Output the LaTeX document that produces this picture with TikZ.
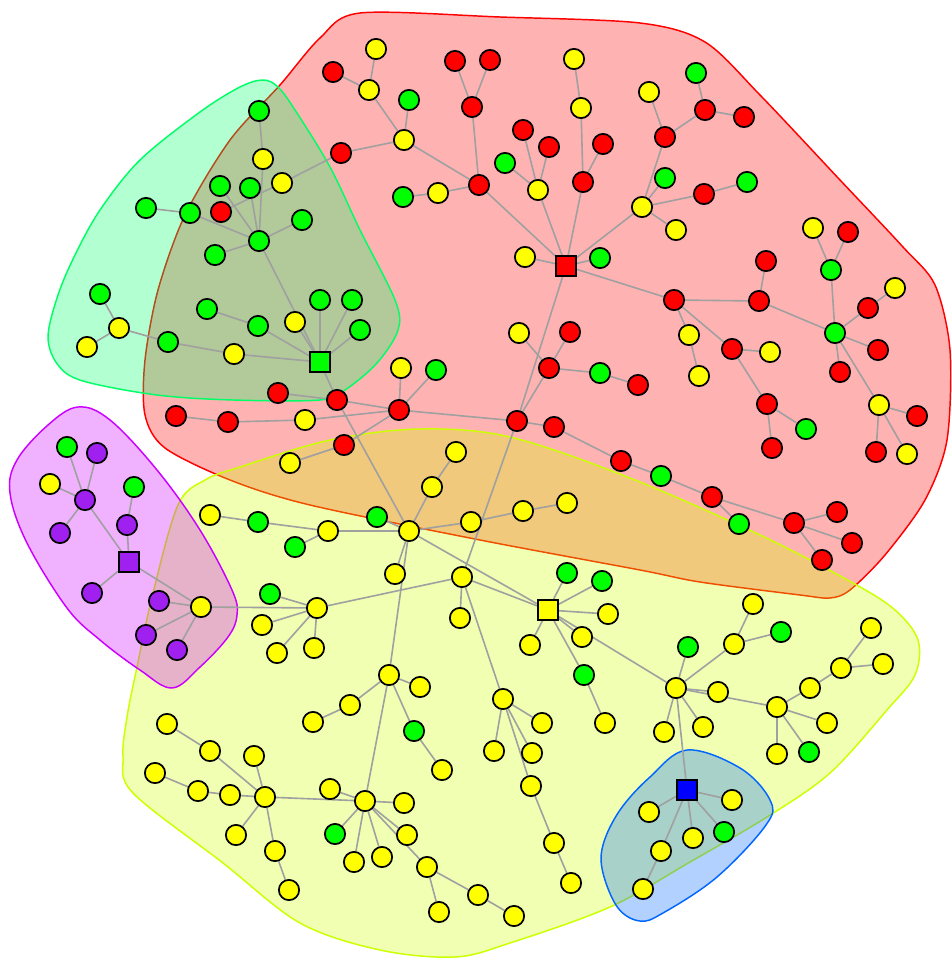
\documentclass[tikz,border=0pt]{standalone}
\pgfdeclarelayer{hulls}
\pgfdeclarelayer{edges}
\pgfsetlayers{hulls,edges,main}
\definecolor{cR}{RGB}{255,0,0}
\definecolor{cY}{RGB}{255,255,0}
\definecolor{cG}{RGB}{0,255,0}
\definecolor{cP}{RGB}{160,32,240}
\definecolor{cB}{RGB}{0,0,255}
\definecolor{hR}{RGB}{255,0,0}
\definecolor{hY}{RGB}{204,255,0}
\definecolor{hG}{RGB}{0,255,102}
\definecolor{hB}{RGB}{0,102,255}
\definecolor{hP}{RGB}{204,0,255}
\definecolor{egray}{RGB}{160,160,160}
\tikzset{
 vtx/.style={circle, draw=black, line width=1.3pt, minimum size=15.2pt, inner sep=0pt},
 sqv/.style={rectangle, draw=black, line width=1.3pt, minimum size=15.2pt, inner sep=0pt},
 R/.style={vtx, fill=cR}, Y/.style={vtx, fill=cY}, G/.style={vtx, fill=cG},
 P/.style={vtx, fill=cP},
 lnk/.style={draw=egray, line width=1.2pt},
 hull/.style={line width=1.1pt, fill opacity=0.3}
}
\begin{document}
\begin{tikzpicture}[x=0.75pt,y=-0.75pt]
\useasboundingbox (0,0) rectangle (952,960);
\begin{pgfonlayer}{hulls}
% red hull
\draw[hull, draw=hR, fill=hR] plot[smooth cycle, tension=0.5] coordinates {
 (360,13) (500,17) (640,23) (705,42) (760,95) (840,180) (903,247) (935,285) (950,350) (947,440) (925,500) (885,555) (850,590) (830,598) (800,595) (700,582) (640,570) (480,540) (310,505) (230,480) (165,448) (145,415) (145,360) (158,290) (185,215) (230,140) (280,85) (320,38)};
% yellow hull
\draw[hull, draw=hY, fill=hY] plot[smooth cycle, tension=0.55] coordinates {
 (127,717) (137,667) (153,593) (178,505) (205,480) (240,467) (330,440) (420,429) (510,437) (630,478) (760,535) (853,583) (895,610) (918,640) (915,675) (887,710) (830,773) (767,817) (690,862) (610,907) (510,943) (455,957) (380,950) (300,923) (223,863) (133,793) (123,757)};
% green hull
\draw[hull, draw=hG, fill=hG] plot[smooth cycle, tension=0.55] coordinates {
 (263,80) (240,87) (200,112) (140,160) (100,210) (75,255) (58,295) (48,337) (58,365) (83,381) (157,395) (233,400) (320,400) (345,390) (377,363) (398,330) (395,300) (360,230) (330,167) (295,110) (278,87)};
% blue hull
\draw[hull, draw=hB, fill=hB] plot[smooth cycle, tension=0.6] coordinates {
 (687,750) (740,768) (770,800) (766,825) (717,877) (663,913) (640,921) (618,908) (603,873) (603,845) (620,810) (650,777)};
% purple hull
\draw[hull, draw=hP, fill=hP] plot[smooth cycle, tension=0.6] coordinates {
 (78,407) (110,420) (157,470) (200,530) (232,590) (237,615) (228,637) (200,667) (172,688) (140,670) (100,640) (67,608) (27,543) (10,493) (17,460) (48,425)};
\end{pgfonlayer}

% ---------------- red group
\node[sqv, fill=cR] (SQR) at (566,266) {};
\node[Y] (y1) at (376,49) {};
\node[R] (r1) at (333,72) {};
\node[Y] (y2) at (369,90) {};
\node[G] (g1) at (409,100) {};
\node[Y] (y3) at (404,140) {};
\node[R] (r2) at (341,153) {};
\node[R] (r3) at (455,61) {};
\node[R] (r4) at (490,60) {};
\node[R] (r5) at (472,107) {};
\node[Y] (y4) at (574,59) {};
\node[Y] (y5) at (581,108) {};
\node[R] (r6) at (523,130) {};
\node[R] (r7) at (549,147) {};
\node[R] (r8) at (603,144) {};
\node[G] (g2) at (505,163) {};
\node[Y] (y6) at (538,190) {};
\node[R] (r9) at (583,182) {};
\node[R] (r10) at (479,185) {};
\node[Y] (y7) at (438,193) {};
\node[G] (g3) at (403,197) {};
\node[G] (g4) at (696,73) {};
\node[Y] (y8) at (649,92) {};
\node[R] (r11) at (705,110) {};
\node[R] (r12) at (744,117) {};
\node[R] (r13) at (665,137) {};
\node[G] (g5) at (665,178) {};
\node[R] (r14) at (704,194) {};
\node[G] (g6) at (747,182) {};
\node[Y] (y9) at (642,207) {};
\node[Y] (y10) at (676,230) {};
\node[Y] (y11) at (525,257) {};
\node[G] (g7) at (600,258) {};
\node[R] (r15) at (674,300) {};
\node[R] (r16) at (759,301) {};
\node[R] (r17) at (766,261) {};
\node[Y] (y12) at (813,228) {};
\node[R] (r18) at (848,232) {};
\node[G] (g8) at (831,270) {};
\node[G] (g9) at (835,333) {};
\node[Y] (y13) at (895,288) {};
\node[R] (r19) at (868,308) {};
\node[R] (r20) at (878,350) {};
\node[R] (r21) at (840,372) {};
\node[Y] (y14) at (689,335) {};
\node[Y] (y15) at (699,376) {};
\node[R] (r22) at (732,349) {};
\node[Y] (y16) at (770,352) {};
\node[R] (r23) at (767,404) {};
\node[G] (g10) at (806,429) {};
\node[R] (r24) at (772,448) {};
\node[Y] (y17) at (879,405) {};
\node[R] (r25) at (917,416) {};
\node[R] (r26) at (876,452) {};
\node[Y] (y18) at (907,454) {};
\node[Y] (y19) at (519,333) {};
\node[R] (r27) at (570,332) {};
\node[R] (r28) at (549,368) {};
\node[G] (g11) at (600,373) {};
\node[R] (r29) at (638,385) {};
\node[R] (r30) at (517,421) {};
\node[R] (r31) at (554,427) {};
\node[R] (r32) at (621,461) {};
\node[G] (g12) at (661,476) {};
\node[R] (r33) at (712,497) {};
\node[G] (g13) at (739,524) {};
\node[R] (r34) at (794,523) {};
\node[R] (r35) at (837,512) {};
\node[R] (r36) at (852,543) {};
\node[R] (r37) at (822,560) {};
\node[R] (r38) at (399,410) {};
\node[Y] (y20) at (401,368) {};
\node[G] (g14) at (436,370) {};
\node[R] (r39) at (337,400) {};
\node[Y] (y21) at (305,420) {};
\node[R] (r40) at (228,422) {};
\node[R] (r41) at (176,416) {};
\node[R] (r42) at (278,393) {};
\node[R] (r43) at (344,445) {};
\node[Y] (y22) at (290,463) {};
% ---------------- green group
\node[sqv, fill=cG] (SQG) at (320,362) {};
\node[G] (g15) at (259,111) {};
\node[Y] (y23) at (263,159) {};
\node[G] (g16) at (220,186) {};
\node[G] (g17) at (250,188) {};
\node[Y] (y24) at (282,183) {};
\node[G] (g18) at (146,208) {};
\node[G] (g19) at (190,213) {};
\node[R] (r44) at (221,212) {};
\node[G] (g20) at (302,220) {};
\node[G] (g21) at (259,241) {};
\node[G] (g22) at (215,255) {};
\node[G] (g23) at (100,294) {};
\node[Y] (y25) at (119,328) {};
\node[Y] (y26) at (87,347) {};
\node[G] (g24) at (168,342) {};
\node[G] (g25) at (207,309) {};
\node[G] (g26) at (258,326) {};
\node[Y] (y27) at (295,322) {};
\node[Y] (y28) at (234,354) {};
\node[G] (g27) at (320,300) {};
\node[G] (g28) at (352,300) {};
\node[G] (g29) at (360,330) {};
% ---------------- purple group
\node[sqv, fill=cP] (SQP) at (129,562) {};
\node[G] (g30) at (67,447) {};
\node[P] (p1) at (97,453) {};
\node[Y] (y29) at (50,484) {};
\node[P] (p2) at (85,500) {};
\node[G] (g31) at (134,487) {};
\node[P] (p3) at (127,525) {};
\node[P] (p4) at (60,533) {};
\node[P] (p5) at (92,593) {};
\node[P] (p6) at (159,601) {};
\node[Y] (y30) at (201,607) {};
\node[P] (p7) at (146,635) {};
\node[P] (p8) at (177,650) {};
% ---------------- yellow group
\node[sqv, fill=cY] (SQY) at (548,610) {};
\node[Y] (YH) at (409,531) {};
\node[Y] (y31) at (210,515) {};
\node[G] (g32) at (258,522) {};
\node[Y] (y32) at (328,531) {};
\node[G] (g33) at (295,547) {};
\node[G] (g34) at (270,594) {};
\node[Y] (y33) at (317,608) {};
\node[Y] (y34) at (262,625) {};
\node[Y] (y35) at (277,653) {};
\node[Y] (y36) at (314,648) {};
\node[G] (g35) at (377,517) {};
\node[Y] (y38) at (432,487) {};
\node[Y] (y39) at (456,452) {};
\node[Y] (y40) at (471,522) {};
\node[Y] (y41) at (523,511) {};
\node[Y] (y42) at (567,503) {};
\node[Y] (y43) at (395,574) {};
\node[Y] (y44) at (462,577) {};
\node[Y] (y45) at (460,618) {};
\node[G] (g36) at (567,573) {};
\node[G] (g37) at (602,581) {};
\node[Y] (y46) at (608,614) {};
\node[Y] (y47) at (582,637) {};
\node[Y] (y48) at (530,645) {};
\node[G] (g38) at (584,675) {};
\node[Y] (y49) at (605,723) {};
\node[Y] (y50) at (389,675) {};
\node[Y] (y51) at (420,687) {};
\node[Y] (y52) at (350,705) {};
\node[Y] (y53) at (313,722) {};
\node[G] (g39) at (414,731) {};
\node[Y] (y54) at (442,770) {};
\node[Y] (y55) at (503,699) {};
\node[Y] (y56) at (542,723) {};
\node[Y] (y57) at (494,751) {};
\node[Y] (y58) at (532,753) {};
\node[Y] (y59) at (531,786) {};
\node[Y] (y60) at (554,843) {};
\node[Y] (y61) at (571,883) {};
\node[Y] (y62) at (167,724) {};
\node[Y] (y63) at (210,751) {};
\node[Y] (y64) at (254,756) {};
\node[Y] (y65) at (155,773) {};
\node[Y] (y66) at (198,791) {};
\node[Y] (y67) at (230,795) {};
\node[Y] (YH2) at (265,797) {};
\node[Y] (y68) at (236,835) {};
\node[Y] (y69) at (275,851) {};
\node[Y] (y70) at (289,890) {};
\node[Y] (y71) at (330,789) {};
\node[Y] (YH3) at (365,801) {};
\node[Y] (y72) at (404,803) {};
\node[G] (g40) at (335,834) {};
\node[Y] (y73) at (354,862) {};
\node[Y] (y74) at (382,857) {};
\node[Y] (y75) at (407,835) {};
\node[Y] (y76) at (427,867) {};
\node[Y] (y77) at (478,895) {};
\node[Y] (y78) at (439,912) {};
\node[Y] (y79) at (514,916) {};
\node[Y] (y80) at (753,604) {};
\node[Y] (y81) at (734,644) {};
\node[G] (g41) at (781,632) {};
\node[G] (g42) at (688,647) {};
\node[Y] (y82) at (676,688) {};
\node[Y] (y83) at (718,692) {};
\node[Y] (y84) at (777,707) {};
\node[Y] (y85) at (810,688) {};
\node[Y] (y86) at (841,668) {};
\node[Y] (y87) at (871,628) {};
\node[Y] (y88) at (883,664) {};
\node[Y] (y89) at (827,723) {};
\node[Y] (y90) at (777,754) {};
\node[G] (g43) at (809,752) {};
\node[Y] (y91) at (664,732) {};
\node[Y] (y92) at (703,727) {};
\node[sqv, fill=cB] (SQB) at (687,790) {};
\node[Y] (y93) at (649,812) {};
\node[Y] (y94) at (732,800) {};
\node[Y] (y95) at (693,838) {};
\node[G] (g44) at (724,832) {};
\node[Y] (y96) at (661,851) {};
\node[Y] (y97) at (643,889) {};

\begin{pgfonlayer}{edges}
\foreach \a/\b in {y1/y2, r1/y2, y2/y3, g1/y3, y3/r2, r2/y24, y3/r10, r3/r5, r4/r5, r5/r10, y7/r10, g3/y7, r10/SQR,
 y4/y5, y5/r9, r8/r9, r9/SQR, r6/y6, r7/y6, g2/y6, y6/SQR, y9/SQR, g4/r11, r11/r12, r11/r13, y8/r13, r13/y9, g5/y9,
 y9/r14, r14/g6, y9/y10, SQR/y11, SQR/g7, SQR/r15, SQR/r30, r15/r16, r17/r16, r16/g9, r15/y14, y14/y15, r15/r22,
 r22/y16, r22/r23, r23/g10, r23/r24, y12/g8, r18/g8, g8/g9, g9/r19, r19/y13, g9/r20, g9/r21, g9/y17, y17/r25,
 y17/r26, y17/y18, r30/r28, r28/y19, r28/r27, r28/g11, g11/r29, r30/r31, r31/r32, r32/g12, g12/r33, r33/g13,
 r33/r34, r34/r35, r34/r36, r34/r37, r30/r38, r38/y20, r38/g14, r38/r43, r43/y22, r38/y21, r38/r39, r39/r42,
 y21/r40, r40/r41, r39/SQG, r39/YH, r30/y44,
 g15/y23, y23/g21, g16/g21, g17/g21, g19/g21, g18/g19, g20/g21, g22/g21, r44/y24, g21/SQG, g23/y25, y26/y25,
 y25/g24, g24/y28, y28/SQG, g25/g26, g26/SQG, y27/SQG, g27/SQG, g28/SQG, g29/SQG,
 g30/p2, p1/p2, y29/p2, p4/p2, p2/SQP, g31/p3, p3/SQP, SQP/p5, SQP/y30, p6/y30, p7/y30, p8/y30, y30/y33,
 y31/g32, g32/y32, g33/y32, y32/YH, g35/YH, y38/YH, y38/y39, YH/y40, y40/y41, y41/y42, YH/y43, YH/y50, YH/SQY,
 g34/y33, y34/y33, y35/y33, y33/y36, y44/y33, y44/y45, y44/SQY, y44/y55, SQY/g36, SQY/g37, SQY/y46, SQY/y47,
 SQY/y48, SQY/g38, SQY/y82, g38/y49, y50/y51, y50/y52, y52/y53, y50/g39, g39/y54, y50/YH3, y55/y56, y55/y57,
 y55/y58, y55/y59, y59/y60, y60/y61, y62/y63, y63/YH2, y64/YH2, y65/y66, y66/y67, y67/YH2, YH2/y68, YH2/y69,
 y69/y70, YH2/YH3, y71/YH3, YH3/y72, YH3/g40, YH3/y73, YH3/y74, YH3/y75, YH3/y76, y76/y77, y76/y78, y77/y79,
 y80/y81, y81/g41, y81/y82, g42/y82, y82/y83, y82/y84, y84/y85, y85/y86, y86/y87, y86/y88, y84/y89, y84/y90,
 y84/g43, y82/y91, y82/y92, y82/SQB, SQB/y93, SQB/y94, SQB/y95, SQB/g44, SQB/y96, y96/y97}
 \draw[lnk] (\a) -- (\b);
\end{pgfonlayer}
\end{tikzpicture}
\end{document}
